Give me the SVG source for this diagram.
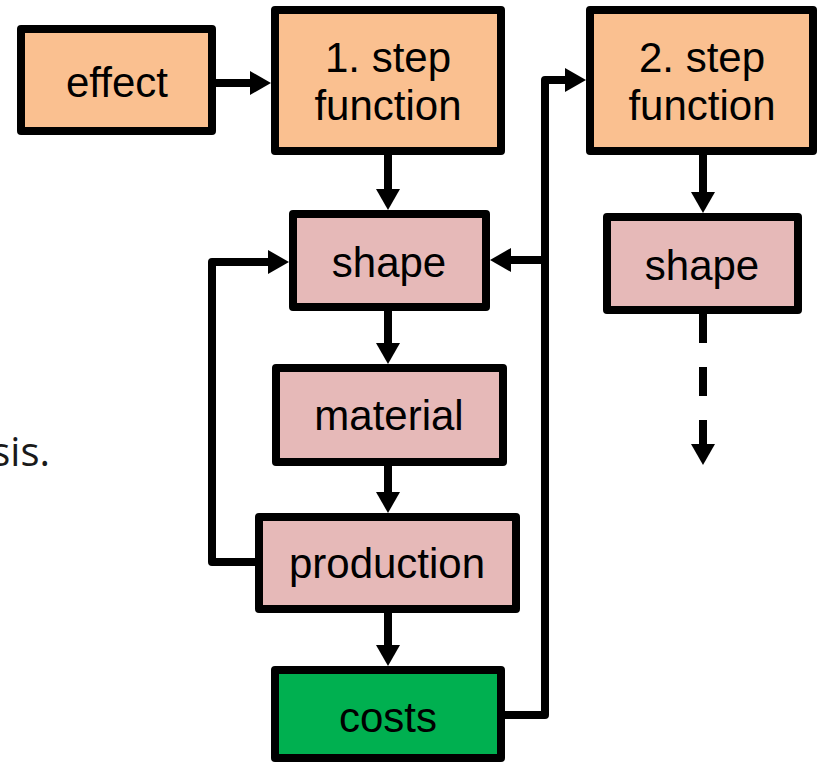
<svg xmlns="http://www.w3.org/2000/svg" width="817" height="765" viewBox="0 0 817 765">
<style>
.box{stroke:#000;stroke-width:8;stroke-linejoin:round}
.orange{fill:#FAC090}
.pink{fill:#E6B9B8}
.green{fill:#00B050}
.lbl{font-family:"Liberation Sans",Arial,sans-serif;font-size:42px;fill:#000;text-anchor:middle}
.con{fill:none;stroke:#000;stroke-width:8;stroke-linejoin:round}
</style>
<defs>
<marker id="ah" markerUnits="userSpaceOnUse" markerWidth="22" markerHeight="24" refX="1" refY="12" orient="auto" overflow="visible">
<path d="M0,0 L21,12 L0,24 z" fill="#000"/>
</marker>
</defs>
<rect width="817" height="765" fill="#fff"/>
<text x="50" y="466" font-family="'Open Sans','Noto Sans',sans-serif" font-size="40" fill="#1a1a1a" text-anchor="end">sis.</text>
<g id="connectors">
<path class="con" d="M216,83 H251" marker-end="url(#ah)"/>
<path class="con" d="M388,155 V190" marker-end="url(#ah)"/>
<path class="con" d="M388,311 V344" marker-end="url(#ah)"/>
<path class="con" d="M388,466 V493" marker-end="url(#ah)"/>
<path class="con" d="M388,613 V646" marker-end="url(#ah)"/>
<path class="con" d="M255,562 H212 V262 H269" marker-end="url(#ah)"/>
<path class="con" d="M505,715 H545 V80 H566" marker-end="url(#ah)"/>
<path class="con" d="M545,260 H510" marker-end="url(#ah)"/>
<path class="con" d="M703,155 V193" marker-end="url(#ah)"/>
<path class="con" d="M703,314 V445" stroke-dasharray="29 24" marker-end="url(#ah)"/>
</g>
<g id="effect">
<rect class="box orange" x="21" y="29" width="191" height="102"/>
<text class="lbl" x="117" y="97">effect</text>
</g>
<g id="step1">
<rect class="box orange" x="275" y="10" width="226" height="141"/>
<text class="lbl" x="388" y="72">1. step</text>
<text class="lbl" x="388" y="120">function</text>
</g>
<g id="step2">
<rect class="box orange" x="590" y="10" width="223" height="141"/>
<text class="lbl" x="702" y="72">2. step</text>
<text class="lbl" x="702" y="120">function</text>
</g>
<g id="shape1">
<rect class="box pink" x="293" y="214" width="193" height="93"/>
<text class="lbl" x="389" y="277">shape</text>
</g>
<g id="shape2">
<rect class="box pink" x="607" y="217" width="191" height="93"/>
<text class="lbl" x="702" y="280">shape</text>
</g>
<g id="material">
<rect class="box pink" x="276" y="368" width="227" height="94"/>
<text class="lbl" x="389" y="430">material</text>
</g>
<g id="production">
<rect class="box pink" x="259" y="517" width="257" height="92"/>
<text class="lbl" x="387" y="578">production</text>
</g>
<g id="costs">
<rect class="box green" x="275" y="670" width="226" height="88"/>
<text class="lbl" x="388" y="732">costs</text>
</g>
</svg>
